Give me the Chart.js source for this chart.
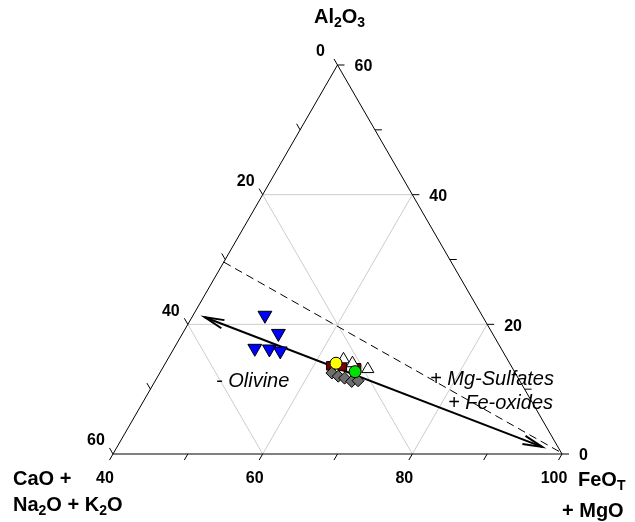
<!DOCTYPE html>
<html>
<head>
<meta charset="utf-8">
<script src="https://cdn.jsdelivr.net/npm/chart.js@4.4.1/dist/chart.umd.min.js"></script>
<style>
  html, body { margin: 0; padding: 0; background: #fff; }
  #wrap { width: 635px; height: 522px; position: relative; }
</style>
</head>
<body>
<div id="wrap"><canvas id="ternary"></canvas></div>
<script>
// ---- data (wt %, CaO+Na2O+K2O / Al2O3 / FeOT+MgO) ----
const blueCa = [29.0, 28.6, 32.9, 31.0, 29.7];
const blueAl = [21.4, 18.6, 16.3, 16.2, 15.9];
const blueFe = [49.6, 52.8, 50.8, 52.8, 54.4];

const whiteCa = [21.9, 21.0, 19.4];
const whiteAl = [14.6, 14.0, 13.1];
const whiteFe = [63.5, 65.0, 67.5];

const redCa = [24.1, 22.6, 20.8];
const redAl = [13.6, 13.5, 13.3];
const redFe = [62.3, 63.9, 65.9];

const grayCa = [24.5, 23.9, 23.2, 22.5, 21.6];
const grayAl = [12.5, 12.0, 11.7, 11.2, 11.3];
const grayFe = [63.0, 64.1, 65.1, 66.3, 67.1];

const yellowCa = [23.2];
const yellowAl = [14.0];
const yellowFe = [62.8];

const greenCa = [21.3];
const greenAl = [12.7];
const greenFe = [66.0];

// trend arrow and dashed line (Ca, Al, Fe)
const arrowStart = [37.2, 21.1, 41.7];
const arrowEnd = [2.1, 1.1, 96.8];
const dashStart = [30.4, 29.6, 40.0];
const dashEnd = [0.1, 0.3, 99.6];

// axes
const gridValues = [20, 40];
const caTicks = [0, 10, 20, 30, 40, 50, 60];
const alTicks = [0, 10, 20, 30, 40, 50, 60];
const feTicks = [40, 50, 60, 70, 80, 90, 100];
const caLabels = [0, 20, 40, 60];
const alLabels = [0, 20, 40, 60];
const feLabels = [40, 60, 80, 100];

const FONT = 'Arial, "Liberation Sans", sans-serif';
const H = Math.sqrt(3) / 2;

// ternary -> cartesian (data units)
function toXY(ca, al, fe) {
  const s = ca + al + fe;
  const a = al / s * 100, f = fe / s * 100;
  return { x: f + a / 2, y: a * H };
}

function pts(ca, al, fe) {
  return ca.map((c, i) => toXY(c, al[i], fe[i]));
}

function lineDs(points, color, width, order, dash) {
  return {
    type: "line",
    data: points,
    showLine: true,
    borderColor: color,
    borderWidth: width,
    borderDash: dash || [],
    pointRadius: 0,
    fill: false,
    tension: 0,
    clip: false,
    order: order
  };
}

function markerDs(points, style, fill, radius, order, rotation) {
  return {
    type: "scatter",
    data: points,
    pointStyle: style,
    pointRadius: radius,
    pointRotation: rotation || 0,
    backgroundColor: fill,
    borderColor: "#000",
    pointBorderWidth: 1,
    clip: false,
    order: order
  };
}

const datasets = [];

// grid
gridValues.forEach(v => {
  datasets.push(lineDs([toXY(60 - v, v, 40), toXY(0, v, 100 - v)], "#cccccc", 1, 20));
  datasets.push(lineDs([toXY(v, 60 - v, 40), toXY(v, 0, 100 - v)], "#cccccc", 1, 20));
  const f = 40 + v;
  datasets.push(lineDs([toXY(100 - f, 0, f), toXY(0, 100 - f, f)], "#cccccc", 1, 20));
});

// triangle frame
datasets.push(lineDs([toXY(60, 0, 40), toXY(0, 0, 100), toXY(0, 60, 40), toXY(60, 0, 40)], "#000", 1, 19));

// dashed line and trend arrow
datasets.push(lineDs([toXY(...dashStart), toXY(...dashEnd)], "#000", 1, 18, [8, 5]));
datasets.push(lineDs([toXY(...arrowStart), toXY(...arrowEnd)], "#000", 2, 17));

// samples
datasets.push(markerDs(pts(redCa, redAl, redFe), "rect", "#7a0000", 6, 9));
datasets.push(markerDs(pts(grayCa, grayAl, grayFe), "rectRot", "#6e6e6e", 6, 8));
datasets.push(markerDs(pts(whiteCa, whiteAl, whiteFe), "triangle", "#ffffff", 7, 7));
datasets.push(markerDs(pts(blueCa, blueAl, blueFe), "triangle", "#0000ff", 8, 6, 180));
datasets.push(markerDs(pts(yellowCa, yellowAl, yellowFe), "circle", "#ffff00", 6, 5));
datasets.push(markerDs(pts(greenCa, greenAl, greenFe), "circle", "#00e000", 6, 4));

// text with subscripts: parts = [[text, isSub], ...]
function drawRich(ctx, parts, x, y, size, align, style) {
  const main = `${style || "bold"} ${size}px ${FONT}`;
  const sub = `${style || "bold"} ${Math.round(size * 0.68)}px ${FONT}`;
  let w = 0;
  parts.forEach(p => { ctx.font = p[1] ? sub : main; w += ctx.measureText(p[0]).width; });
  let cx = align === "center" ? x - w / 2 : (align === "right" ? x - w : x);
  ctx.textAlign = "left";
  ctx.textBaseline = "middle";
  parts.forEach(p => {
    ctx.font = p[1] ? sub : main;
    ctx.fillText(p[0], cx, p[1] ? y + size * 0.32 : y);
    cx += ctx.measureText(p[0]).width;
  });
}

function arrowHead(ctx, from, to, len, spread) {
  const ang = Math.atan2(to.y - from.y, to.x - from.x);
  ctx.beginPath();
  ctx.moveTo(to.x - len * Math.cos(ang - spread), to.y - len * Math.sin(ang - spread));
  ctx.lineTo(to.x, to.y);
  ctx.lineTo(to.x - len * Math.cos(ang + spread), to.y - len * Math.sin(ang + spread));
  ctx.stroke();
}

const ternaryDecor = {
  id: "ternaryDecor",
  afterDatasetsDraw(chart) {
    const ctx = chart.ctx;
    const sx = chart.scales.x, sy = chart.scales.y;
    const px = p => ({ x: sx.getPixelForValue(p.x), y: sy.getPixelForValue(p.y) });
    ctx.save();
    ctx.strokeStyle = "#000";
    ctx.fillStyle = "#000";
    ctx.lineWidth = 1;

    // ticks
    const tick = (p, dx, dy, len) => {
      ctx.beginPath();
      ctx.moveTo(p.x, p.y);
      ctx.lineTo(p.x + dx * len, p.y + dy * len);
      ctx.stroke();
    };
    caTicks.forEach(v => tick(px(toXY(v, 60 - v, 40)), -0.5, -H, 7));
    alTicks.forEach(v => tick(px(toXY(0, v, 100 - v)), 1, 0, 7));
    feTicks.forEach(v => tick(px(toXY(100 - v, 0, v)), -0.5, H, 7));

    // tick labels
    ctx.font = `bold 16px ${FONT}`;
    ctx.textBaseline = "middle";
    ctx.textAlign = "center";
    caLabels.forEach(v => {
      const p = px(toXY(v, 60 - v, 40));
      ctx.fillText(String(v), p.x - 17, p.y - 13);
    });
    ctx.textAlign = "left";
    alLabels.forEach(v => {
      const p = px(toXY(0, v, 100 - v));
      ctx.fillText(String(v), p.x + 17, p.y + 2);
    });
    ctx.textAlign = "center";
    feLabels.forEach(v => {
      const p = px(toXY(100 - v, 0, v));
      ctx.fillText(String(v), p.x - 8, p.y + 25);
    });

    // axis titles
    const apex = px(toXY(0, 60, 40));
    const bl = px(toXY(60, 0, 40));
    const br = px(toXY(0, 0, 100));
    drawRich(ctx, [["Al"], ["2", 1], ["O"], ["3", 1]], apex.x + 2, apex.y - 48, 20, "center");
    drawRich(ctx, [["CaO +"]], bl.x - 100, bl.y + 25, 20, "left");
    drawRich(ctx, [["Na"], ["2", 1], ["O + K"], ["2", 1], ["O"]], bl.x - 100, bl.y + 51, 20, "left");
    drawRich(ctx, [["FeO"], ["T", 1]], br.x + 16, br.y + 26, 20, "left");
    drawRich(ctx, [["+ MgO"]], br.x + 0, br.y + 57, 20, "left");

    // annotations
    drawRich(ctx, [["- Olivine"]], 216, 381, 20, "left", "italic");
    drawRich(ctx, [["+ Mg-Sulfates"]], 430, 379, 20, "left", "italic");
    drawRich(ctx, [["+ Fe-oxides"]], 448, 403, 20, "left", "italic");

    // arrow heads
    const a0 = px(toXY(...arrowStart));
    const a1 = px(toXY(...arrowEnd));
    ctx.lineWidth = 2;
    arrowHead(ctx, a0, a1, 20, 0.22);
    arrowHead(ctx, a1, a0, 20, 0.22);
    ctx.restore();
  }
};

new Chart(document.getElementById("ternary"), {
  type: "scatter",
  data: { datasets },
  options: {
    responsive: true,
    maintainAspectRatio: false,
    animation: false,
    layout: { padding: { left: 113, right: 73, top: 65, bottom: 68 } },
    scales: {
      x: { type: "linear", min: 40, max: 100, display: false },
      y: { type: "linear", min: 0, max: 60 * H, display: false }
    },
    plugins: {
      legend: { display: false },
      tooltip: { enabled: false }
    }
  },
  plugins: [ternaryDecor]
});
</script>
</body>
</html>
